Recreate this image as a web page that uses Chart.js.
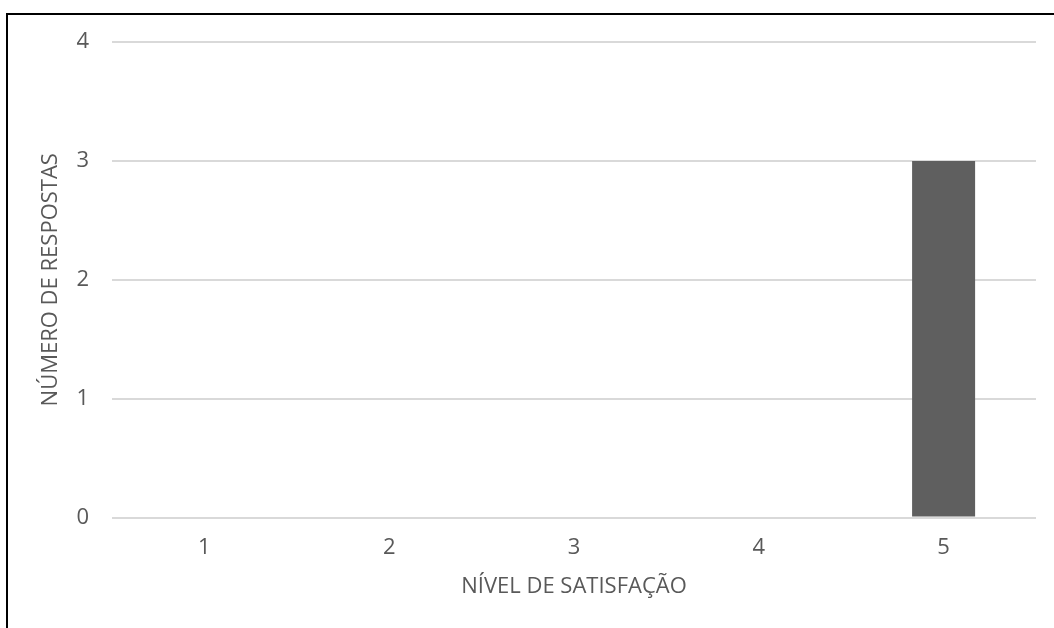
<!DOCTYPE html>
<html>
<head>
<meta charset="utf-8">
<script src="https://cdn.jsdelivr.net/npm/chart.js@4"></script>
<style>
  body { margin: 0; background: #fff; }
  #wrap { position: relative; width: 1054px; height: 628px; }
  #frame { position: absolute; left: 6px; top: 13px; width: 1100px; height: 700px;
           border-top: 2px solid #000; border-left: 2px solid #000; pointer-events: none; }
</style>
</head>
<body>
<div id="wrap">
  <canvas id="myChart" width="1054" height="628"></canvas>
  <div id="frame"></div>
</div>
<script>
// data
var categories = ['1', '2', '3', '4', '5'];
var respostas = [0, 0, 0, 0, 3];
var y_ticks = [0, 1, 2, 3, 4];

var textColor = '#595959';
var font = { family: 'Open Sans', size: 22 };

var ctx = document.getElementById('myChart').getContext('2d');
var chart_config = {
    type: 'bar',
    data: {
        labels: categories,
        datasets: [{
            label: 'Número de respostas',
            data: respostas,
            backgroundColor: '#5f5f5f',
            categoryPercentage: 1,
            barPercentage: 0.341
        }]
    },
    options: {
        responsive: false,
        animation: false,
        layout: { padding: { top: 42, right: 18, left: 0, bottom: 0 } },
        plugins: {
            legend: { display: false },
            tooltip: { enabled: false }
        },
        scales: {
            x: {
                grid: { display: false, drawTicks: false },
                border: { display: false },
                ticks: { color: textColor, font: font, padding: 17 },
                title: {
                    display: true, text: 'NÍVEL DE SATISFAÇÃO',
                    color: textColor, font: font, padding: { top: 0, bottom: 28 }
                },
                afterFit: function(s) { s.height = 110.5; }
            },
            y: {
                min: 0, max: 4,
                afterBuildTicks: function(s) { s.ticks = y_ticks.map(function(v){ return { value: v }; }); },
                grid: { color: '#d9d9d9', lineWidth: 2, drawTicks: false },
                border: { display: false },
                ticks: { color: textColor, font: font, padding: 23 },
                title: {
                    display: true, text: 'NÚMERO DE RESPOSTAS',
                    color: textColor, font: font, padding: { top: 38, bottom: 0 }
                },
                afterFit: function(s) { s.width = 112; }
            }
        }
    }
};
var myChart = new Chart(ctx, chart_config);
</script>
</body>
</html>
